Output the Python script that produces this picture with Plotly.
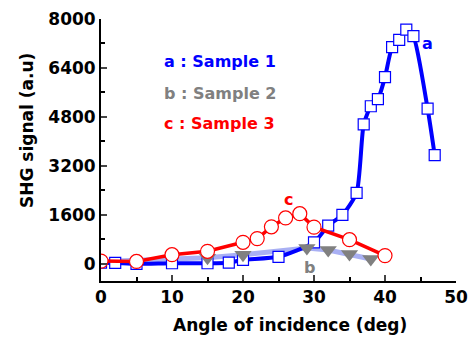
import plotly.graph_objects as go

# Sample 1 (a)
a_x = [0, 2, 5, 10, 15, 18, 20, 25, 30, 32, 34, 36, 37, 38, 39, 40, 41, 42, 43, 44, 46, 47]
a_y = [40, 30, 0, 20, 20, 40, 130, 230, 700, 1250, 1600, 2320, 4560, 5150, 5380, 6100, 7080, 7320, 7650, 7440, 5070, 3550]

# Sample 2 (b)
b_x = [0, 5, 10, 15, 20, 29, 32, 35, 38]
b_y = [80, 120, 170, 200, 300, 520, 450, 320, 160]
b_marker_start = 3  # markers shown from the 4th point on

# Sample 3 (c)
c_x = [0, 5, 10, 15, 20, 22, 24, 26, 28, 30, 35, 40]
c_y = [90, 80, 300, 410, 705, 825, 1210, 1500, 1640, 1200, 790, 270]

x_ticks = [0, 10, 20, 30, 40, 50]
y_ticks = [0, 1600, 3200, 4800, 6400, 8000]

FONT = "DejaVu Sans"
BLUE = "#0000ff"
RED = "#ff0000"
GRAY = "#808080"
LIGHT = "#a9b0f4"

W, H = 472, 339
L, R, T, B = 101, 16, 19, 58
PW, PH = W - L - R, H - T - B

fig = go.Figure()

fig.add_trace(go.Scatter(x=b_x, y=b_y, mode="lines",
                         line=dict(color=LIGHT, width=5), hoverinfo="skip"))
fig.add_trace(go.Scatter(x=a_x, y=a_y, mode="lines+markers",
                         line=dict(color=BLUE, width=4, shape="spline", smoothing=0.6),
                         marker=dict(symbol="square", size=11, color="white",
                                     line=dict(color=BLUE, width=1.2))))
fig.add_trace(go.Scatter(x=b_x[b_marker_start:], y=b_y[b_marker_start:], mode="markers",
                         marker=dict(symbol="triangle-down", size=15, color=GRAY,
                                     line=dict(width=0))))
fig.add_trace(go.Scatter(x=c_x, y=c_y, mode="lines+markers",
                         line=dict(color=RED, width=3.5),
                         marker=dict(symbol="circle", size=14, color="white",
                                     line=dict(color=RED, width=1.2))))

fig.update_layout(
    width=W, height=H,
    margin=dict(l=L, r=R, t=T, b=B, autoexpand=False),
    paper_bgcolor="white", plot_bgcolor="white",
    showlegend=False,
    font=dict(family=FONT, size=16, color="black"),
    xaxis=dict(range=[0, 50], tickvals=x_ticks, ticks="inside", ticklen=6, tickwidth=1.5,
               showline=True, linecolor="black", linewidth=1.8, showgrid=False, zeroline=False,
               automargin=False,
               tickfont=dict(family=FONT, size=17, color="black", weight="bold"),
               minor=dict(dtick=5, ticks="inside", ticklen=4, tickwidth=1.5, tickcolor="black")),
    yaxis=dict(range=[-560, 8000], tickvals=y_ticks, ticks="inside", ticklen=6, tickwidth=1.5,
               showline=True, linecolor="black", linewidth=1.8, showgrid=False, zeroline=False,
               automargin=False,
               tickfont=dict(family=FONT, size=17, color="black", weight="bold"),
               minor=dict(dtick=800, tick0=0, ticks="inside", ticklen=4, tickwidth=1.5, tickcolor="black")),
)

# axis titles
fig.add_annotation(text="<b>Angle of incidence (deg)</b>", xref="paper", yref="paper",
                   x=(290 - L) / PW, y=-(325 - (T + PH)) / PH, xanchor="center", yanchor="middle",
                   showarrow=False, font=dict(family=FONT, size=17, color="black"))
fig.add_annotation(text="<b>SHG signal (a.u)</b>", xref="paper", yref="paper",
                   x=-(L - 27) / PW, y=(T + PH - 131) / PH, xanchor="center", yanchor="middle",
                   textangle=-90, showarrow=False, font=dict(family=FONT, size=17, color="black"))

legend_items = [("a : Sample 1", BLUE, 61), ("b : Sample 2", GRAY, 93), ("c : Sample 3", RED, 124)]
for txt, col, ypx in legend_items:
    fig.add_annotation(text=f"<b>{txt}</b>", xref="paper", yref="paper",
                       x=(162 - L) / PW, y=(T + PH - ypx) / PH, xanchor="left", yanchor="middle",
                       showarrow=False, font=dict(family=FONT, size=16, color=col))

fig.add_annotation(text="<b>a</b>", x=46.0, y=7190, showarrow=False,
                   font=dict(family=FONT, size=16, color=BLUE))
fig.add_annotation(text="<b>c</b>", x=26.4, y=2100, showarrow=False,
                   font=dict(family=FONT, size=16, color=RED))
fig.add_annotation(text="<b>b</b>", x=29.3, y=-130, showarrow=False,
                   font=dict(family=FONT, size=16, color=GRAY))

fig.write_html("out.html", config={"displayModeBar": False},
               post_script="document.body.style.margin='0';document.body.style.overflow='hidden';")
